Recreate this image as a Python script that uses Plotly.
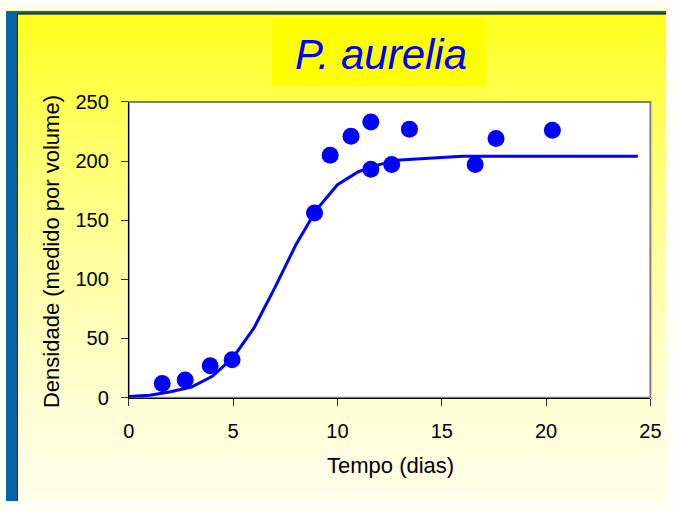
import plotly.graph_objects as go

# ---- data ----
obs_days = [1.6, 2.7, 3.9, 4.95, 8.9, 9.65, 10.65, 11.6, 11.6, 12.6, 13.45, 16.6, 17.6, 20.3]
obs_density = [12, 15, 27, 32, 156, 205, 221, 233, 193, 197, 227, 197, 219, 226]

fit_days = [0, 1, 2, 3, 4, 5, 6, 7, 8, 9, 10, 11, 12, 13, 14, 15, 16, 17, 18, 19, 20, 21, 22, 23, 24.4]
fit_density = [1, 2, 5, 9, 18, 34, 59, 93, 129, 159, 180, 191, 197, 201, 202, 203, 204, 204, 204, 204, 204, 204, 204, 204, 204]

x_ticks = [0, 5, 10, 15, 20, 25]
y_ticks = [0, 50, 100, 150, 200, 250]

title_text = "P. aurelia"
x_title = "Tempo (dias)"
y_title = "Densidade (medido por volume)"

W, H = 677, 512
FONT = "Liberation Sans, Arial, sans-serif"


def px(x):
    return x / W


def py(y):
    return 1 - y / H


fig = go.Figure()
fig.add_trace(go.Scatter(x=fit_days, y=fit_density, mode="lines",
                         line=dict(color="#0000FF", width=3), showlegend=False,
                         hoverinfo="skip"))
fig.add_trace(go.Scatter(x=obs_days, y=obs_density, mode="markers",
                         marker=dict(color="#0000FF", size=17), showlegend=False))

shapes = []
# background gradient (yellow -> near white)
n = 64
for i in range(n):
    y0 = i * H / n
    y1 = (i + 1) * H / n
    t = (y0 + y1) / 2 / H
    b = int(min(245, 25 + 320 * t - 110 * t * t))
    shapes.append(dict(type="rect", xref="paper", yref="paper",
                       x0=0, x1=1, y0=py(y1) - 0.001, y1=py(y0) + 0.001,
                       fillcolor=f"rgb(255,255,{b})", line=dict(width=0),
                       layer="below"))
# blue frame left and top
shapes.append(dict(type="rect", xref="paper", yref="paper", x0=0, x1=px(11),
                   y0=0, y1=1, fillcolor="#0466A9", line=dict(width=0), layer="below"))
shapes.append(dict(type="rect", xref="paper", yref="paper", x0=0, x1=1,
                   y0=py(2.5), y1=1, fillcolor="#0466A9", line=dict(width=0), layer="below"))
shapes.append(dict(type="line", xref="paper", yref="paper", x0=px(11.5), x1=px(11.5),
                   y0=0, y1=py(2.5), line=dict(color="#000000", width=1.2), layer="below"))
shapes.append(dict(type="line", xref="paper", yref="paper", x0=px(11.5), x1=1,
                   y0=py(3), y1=py(3), line=dict(color="#000000", width=1.2), layer="below"))
# title box
shapes.append(dict(type="rect", xref="paper", yref="paper", x0=px(273), x1=px(492),
                   y0=py(78), y1=py(8), fillcolor="#FFFF00", line=dict(width=0), layer="below"))
# plot frame (gray top/right)
shapes.append(dict(type="rect", xref="x domain", yref="y domain", x0=0, x1=1, y0=0, y1=1,
                   fillcolor="white", line=dict(color="#808080", width=2), layer="below"))

fig.update_layout(
    width=W, height=H,
    margin=dict(l=0, r=0, t=0, b=0),
    paper_bgcolor="#FFFFF5",
    plot_bgcolor="rgba(0,0,0,0)",
    shapes=shapes,
    font=dict(family=FONT, color="#000000", size=18),
    xaxis=dict(domain=[px(126), px(661)], range=[0, 25], tickvals=x_ticks,
               showgrid=False, zeroline=False, showline=True, linecolor="#000000",
               linewidth=1, ticks="outside", ticklen=7, tickcolor="#333333",
               tickfont=dict(size=20), ticklabelstandoff=8, fixedrange=True),
    yaxis=dict(domain=[py(404), py(95)], range=[0, 250], tickvals=y_ticks,
               showgrid=False, zeroline=False, showline=True, linecolor="#000000",
               linewidth=1, ticks="outside", ticklen=7, tickcolor="#333333",
               tickfont=dict(size=20), ticklabelstandoff=8, fixedrange=True),
    annotations=[
        dict(text=title_text, xref="paper", yref="paper", x=px(385), y=py(45),
             showarrow=False, xanchor="center", yanchor="middle",
             font=dict(family=FONT, size=42, color="#0000FF", style="italic")),
        dict(text=x_title, xref="paper", yref="paper", x=px(394), y=py(475),
             showarrow=False, xanchor="center", yanchor="middle",
             font=dict(family=FONT, size=22, color="#000000")),
        dict(text=y_title, xref="paper", yref="paper", x=px(46), y=py(251),
             showarrow=False, xanchor="center", yanchor="middle", textangle=-90,
             font=dict(family=FONT, size=22, color="#000000")),
    ],
)

post = (
    "document.documentElement.style.margin='0';"
    "document.body.style.margin='0';"
    "document.body.style.overflow='hidden';"
)

fig.write_html(
    "out.html",
    config={"displayModeBar": False},
    post_script=post,
)
